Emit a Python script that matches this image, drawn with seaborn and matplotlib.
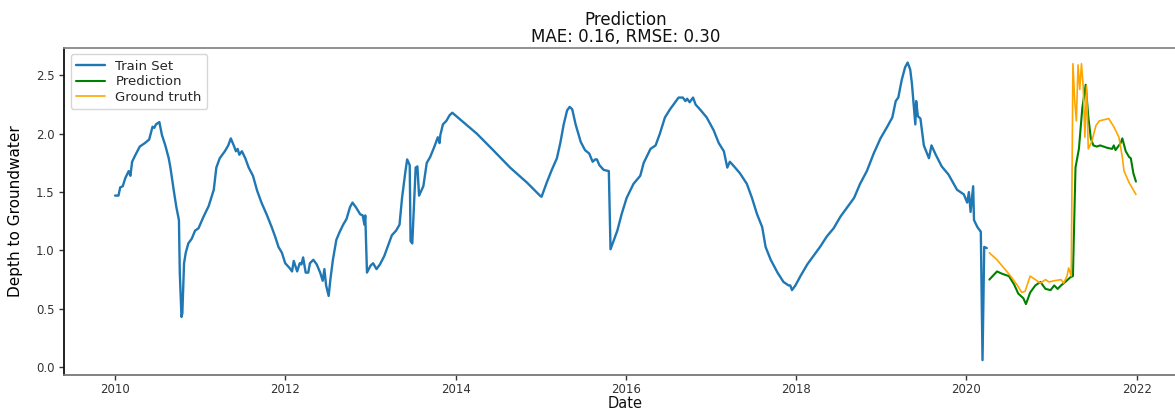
import numpy as np
import pandas as pd
import matplotlib
matplotlib.use("Agg")
import matplotlib.pyplot as plt
import matplotlib.dates as mdates
import seaborn as sns

# Observed depth to groundwater (m), dates given as decimal years
train_years = [
    2010.00, 2010.04, 2010.06, 2010.09, 2010.12, 2010.16, 2010.18, 2010.20, 2010.24, 2010.29,
    2010.35, 2010.40, 2010.44, 2010.46, 2010.48, 2010.52, 2010.55, 2010.59, 2010.63, 2010.65,
    2010.69, 2010.72, 2010.75, 2010.76, 2010.78, 2010.79, 2010.81, 2010.83, 2010.86, 2010.90,
    2010.94, 2010.98, 2011.04, 2011.10, 2011.16, 2011.19, 2011.23, 2011.29, 2011.33, 2011.36,
    2011.40, 2011.42, 2011.44, 2011.46, 2011.49, 2011.53, 2011.57, 2011.62, 2011.67, 2011.72,
    2011.78, 2011.84, 2011.88, 2011.92, 2011.96, 2012.00, 2012.05, 2012.08, 2012.10, 2012.14,
    2012.17, 2012.19, 2012.21, 2012.24, 2012.27, 2012.29, 2012.33, 2012.37, 2012.41, 2012.44,
    2012.46, 2012.48, 2012.51, 2012.53, 2012.56, 2012.60, 2012.64, 2012.68, 2012.72, 2012.76,
    2012.79, 2012.83, 2012.88, 2012.91, 2012.93, 2012.94, 2012.96, 2013.00, 2013.03, 2013.07,
    2013.11, 2013.16, 2013.21, 2013.25, 2013.30, 2013.34, 2013.37, 2013.41, 2013.43, 2013.46,
    2013.47, 2013.49, 2013.53, 2013.55, 2013.57, 2013.62, 2013.66, 2013.70, 2013.75, 2013.79,
    2013.81, 2013.82, 2013.85, 2013.89, 2013.93, 2013.96, 2014.25, 2014.44, 2014.64, 2014.84,
    2014.99, 2015.01, 2015.07, 2015.13, 2015.19, 2015.23, 2015.27, 2015.31, 2015.34, 2015.37,
    2015.41, 2015.47, 2015.52, 2015.57, 2015.61, 2015.64, 2015.66, 2015.69, 2015.74, 2015.80,
    2015.82, 2015.90, 2015.95, 2016.01, 2016.09, 2016.17, 2016.21, 2016.29, 2016.35, 2016.40,
    2016.46, 2016.52, 2016.58, 2016.62, 2016.67, 2016.70, 2016.72, 2016.75, 2016.79, 2016.82,
    2016.87, 2016.95, 2017.03, 2017.09, 2017.15, 2017.19, 2017.22, 2017.27, 2017.34, 2017.42,
    2017.48, 2017.54, 2017.60, 2017.64, 2017.70, 2017.78, 2017.85, 2017.91, 2017.93, 2017.95,
    2017.99, 2018.05, 2018.13, 2018.21, 2018.28, 2018.36, 2018.44, 2018.52, 2018.60, 2018.68,
    2018.75, 2018.83, 2018.91, 2018.99, 2019.07, 2019.13, 2019.17, 2019.20, 2019.24, 2019.28,
    2019.31, 2019.34, 2019.36, 2019.40, 2019.41, 2019.43, 2019.46, 2019.50, 2019.56, 2019.59,
    2019.64, 2019.71, 2019.79, 2019.89, 2019.97, 2020.01, 2020.03, 2020.05, 2020.08, 2020.09,
    2020.13, 2020.17, 2020.19, 2020.21, 2020.24,
]
train_depth = [
    1.47, 1.47, 1.54, 1.55, 1.62, 1.68, 1.64, 1.76, 1.82, 1.89,
    1.92, 1.95, 2.06, 2.05, 2.08, 2.10, 1.99, 1.90, 1.79, 1.71,
    1.51, 1.37, 1.26, 0.81, 0.43, 0.46, 0.89, 0.98, 1.06, 1.10,
    1.17, 1.19, 1.29, 1.38, 1.52, 1.71, 1.79, 1.85, 1.90, 1.96,
    1.89, 1.85, 1.87, 1.82, 1.85, 1.79, 1.71, 1.64, 1.51, 1.41,
    1.31, 1.20, 1.12, 1.03, 0.98, 0.89, 0.85, 0.82, 0.91, 0.82,
    0.89, 0.88, 0.94, 0.81, 0.81, 0.89, 0.92, 0.88, 0.81, 0.74,
    0.84, 0.70, 0.61, 0.75, 0.92, 1.09, 1.16, 1.22, 1.27, 1.37,
    1.41, 1.37, 1.31, 1.30, 1.22, 1.30, 0.81, 0.87, 0.89, 0.84,
    0.88, 0.95, 1.05, 1.13, 1.17, 1.22, 1.45, 1.68, 1.78, 1.73,
    1.08, 1.06, 1.71, 1.72, 1.47, 1.55, 1.75, 1.80, 1.89, 1.97,
    1.92, 1.99, 2.08, 2.11, 2.16, 2.18, 2.00, 1.86, 1.71, 1.58,
    1.47, 1.46, 1.58, 1.69, 1.79, 1.92, 2.08, 2.20, 2.23, 2.21,
    2.08, 1.93, 1.86, 1.83, 1.76, 1.78, 1.78, 1.73, 1.69, 1.68,
    1.01, 1.17, 1.31, 1.45, 1.57, 1.64, 1.75, 1.87, 1.90, 2.00,
    2.14, 2.21, 2.27, 2.31, 2.31, 2.28, 2.30, 2.27, 2.31, 2.25,
    2.21, 2.14, 2.03, 1.92, 1.85, 1.71, 1.76, 1.72, 1.66, 1.57,
    1.45, 1.31, 1.20, 1.03, 0.92, 0.81, 0.73, 0.70, 0.70, 0.66,
    0.70, 0.78, 0.88, 0.96, 1.03, 1.12, 1.19, 1.29, 1.37, 1.45,
    1.57, 1.68, 1.83, 1.96, 2.06, 2.14, 2.28, 2.31, 2.46, 2.57,
    2.61, 2.55, 2.43, 2.08, 2.28, 2.15, 2.13, 1.90, 1.79, 1.90,
    1.82, 1.72, 1.65, 1.52, 1.48, 1.41, 1.50, 1.33, 1.55, 1.26,
    1.20, 1.16, 0.06, 1.03, 1.02,
]

# Model output over the test period
pred_years = [
    2020.27, 2020.36, 2020.42, 2020.50, 2020.56, 2020.61, 2020.67, 2020.70, 2020.75, 2020.81,
    2020.87, 2020.93, 2020.99, 2021.03, 2021.07, 2021.11, 2021.16, 2021.22, 2021.25, 2021.28,
    2021.32, 2021.36, 2021.40, 2021.43, 2021.46, 2021.49, 2021.53, 2021.57, 2021.65, 2021.71,
    2021.73, 2021.75, 2021.79, 2021.81, 2021.83, 2021.87, 2021.91, 2021.93, 2021.96, 2021.99,
]
pred_depth = [
    0.75, 0.82, 0.80, 0.78, 0.71, 0.63, 0.59, 0.54, 0.64, 0.70,
    0.73, 0.67, 0.66, 0.70, 0.67, 0.70, 0.73, 0.77, 0.78, 1.71,
    1.87, 2.22, 2.42, 2.15, 1.96, 1.90, 1.89, 1.90, 1.88, 1.87,
    1.90, 1.86, 1.90, 1.92, 1.96, 1.85, 1.80, 1.79, 1.66, 1.59,
]

# Measured values over the test period
truth_years = [
    2020.27, 2020.36, 2020.44, 2020.52, 2020.60, 2020.65, 2020.69, 2020.75, 2020.81, 2020.87,
    2020.93, 2020.97, 2021.03, 2021.11, 2021.14, 2021.18, 2021.20, 2021.23, 2021.25, 2021.27,
    2021.29, 2021.31, 2021.33, 2021.35, 2021.37, 2021.39, 2021.41, 2021.43, 2021.47, 2021.52,
    2021.56, 2021.67, 2021.73, 2021.79, 2021.83, 2021.85, 2021.91, 2021.99,
]
truth_depth = [
    0.98, 0.92, 0.85, 0.78, 0.70, 0.64, 0.65, 0.78, 0.75, 0.72,
    0.75, 0.73, 0.74, 0.75, 0.72, 0.78, 0.85, 0.78, 2.60, 2.29,
    2.11, 2.59, 2.38, 2.60, 2.41, 1.97, 2.41, 1.87, 1.93, 2.07,
    2.11, 2.13, 2.06, 1.97, 1.80, 1.68, 1.58, 1.48,
]


def to_dates(years):
    """Convert decimal years to timestamps."""
    out = []
    for y in years:
        yr = int(np.floor(y))
        out.append(pd.Timestamp(year=yr, month=1, day=1)
                   + pd.Timedelta(days=(y - yr) * 365.25))
    return out


train = pd.DataFrame({"Date": to_dates(train_years), "Depth": train_depth})
pred = pd.DataFrame({"Date": to_dates(pred_years), "Depth": pred_depth})
truth = pd.DataFrame({"Date": to_dates(truth_years), "Depth": truth_depth})

sns.set_style("ticks")
plt.rcParams["font.family"] = ["DejaVu Sans"]

fig = plt.figure(figsize=(11.75, 4.15), dpi=100)
ax = fig.add_axes([0.0545, 0.0964, 0.9557, 0.7887])

sns.lineplot(data=train, x="Date", y="Depth", ax=ax, color="#1f77b4",
             linewidth=1.7, label="Train Set", sort=False)
sns.lineplot(data=pred, x="Date", y="Depth", ax=ax, color="green",
             linewidth=1.5, label="Prediction", sort=False)
sns.lineplot(data=truth, x="Date", y="Depth", ax=ax, color="orange",
             linewidth=1.2, label="Ground truth", sort=False)

ax.xaxis.set_major_locator(mdates.YearLocator(2))
ax.xaxis.set_major_formatter(mdates.DateFormatter("%Y"))

ax.set_title("Prediction\nMAE: 0.16, RMSE: 0.30", fontsize=12, pad=4,
             color="#111111", linespacing=0.95)
ax.set_xlabel("Date", fontsize=10.5, labelpad=0, color="#111111")
ax.set_ylabel("Depth to Groundwater", fontsize=11, labelpad=9, color="#000000")
ax.tick_params(axis="both", labelsize=8.5, length=3.5, width=1, colors="#333333")
ax.tick_params(axis="x", pad=2.5)

ax.spines["left"].set_color("#111111")
ax.spines["bottom"].set_color("#777777")
ax.spines["top"].set_color("#888888")
for s in ("left", "bottom", "top"):
    ax.spines[s].set_visible(True)
    ax.spines[s].set_linewidth(1.3)
ax.spines["right"].set_visible(False)

ax.legend(loc="upper left", fontsize=9.5, frameon=True, fancybox=True,
          borderaxespad=0.5, handlelength=2.2, labelspacing=0.2,
          borderpad=0.4)

fig.savefig("out.png", dpi=100)
